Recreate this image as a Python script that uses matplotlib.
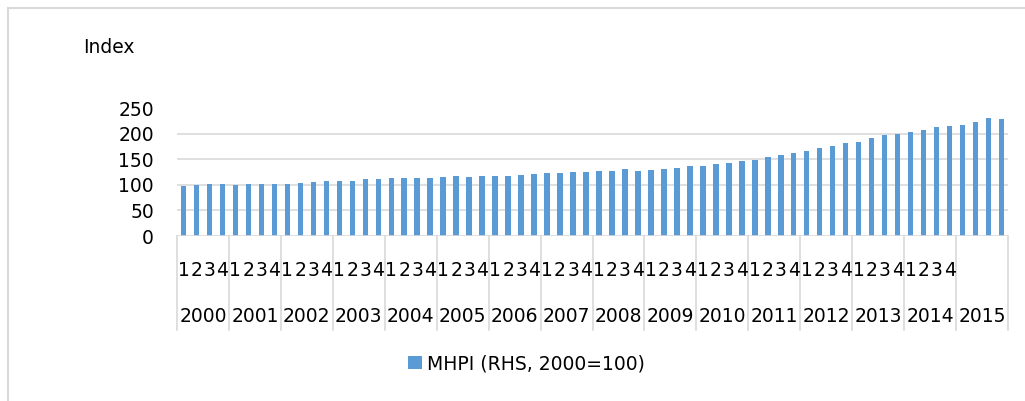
import numpy as np
import matplotlib.pyplot as plt
from matplotlib.lines import Line2D
from matplotlib.patches import Patch
import matplotlib.transforms as mtransforms

#########
# DATA  #
#########

years = [str(y) for y in range(2000, 2016)]
quarters = ["1", "2", "3", "4"]

# MHPI quarterly values, 2000Q1 .. 2015Q4
mhpi = [
    97.7, 100.0, 101.6, 101.6,
    100.0, 101.6, 102.0, 102.0,
    102.0, 104.0, 106.0, 107.0,
    107.0, 107.0, 111.0, 111.0,
    113.0, 113.0, 113.0, 114.0,
    115.0, 117.0, 116.0, 117.0,
    117.0, 118.0, 118.6, 121.8,
    122.5, 122.5, 124.4, 125.0,
    128.0, 128.0, 131.0, 128.0,
    129.0, 131.0, 133.0, 136.0,
    137.0, 140.0, 143.0, 146.6,
    148.5, 154.0, 157.7, 161.6,
    166.0, 172.0, 176.5, 181.8,
    184.4, 191.5, 197.4, 199.3,
    202.6, 207.8, 213.0, 215.0,
    218.0, 223.5, 230.0, 228.0,
]

legend_label = "MHPI (RHS, 2000=100)"
y_title = "Index"
y_ticks = [0, 50, 100, 150, 200, 250]

##########
# STYLE  #
##########

W, H = 1025, 401
BAR_COLOR = "#5b9bd5"
GRID_COLOR = "#d9d9d9"
FONT_SIZE = 13.5

plt.rcParams["font.family"] = ["DejaVu Sans"]

fig = plt.figure(figsize=(W / 100, H / 100), dpi=100)

# axes placed in pixel terms of the reference
ax_left, ax_right = 177, 1008
ax_bottom, ax_top = 236, 108.2
ax = fig.add_axes([ax_left / W, 1 - ax_bottom / H,
                   (ax_right - ax_left) / W, (ax_bottom - ax_top) / H])
ax_h = ax_bottom - ax_top

x = np.arange(len(mhpi))
ax.bar(x, mhpi, width=0.42, color=BAR_COLOR, zorder=3)

ax.set_xlim(-0.5, len(mhpi) - 0.5)
ax.set_ylim(0, 250)
ax.set_yticks(y_ticks)
ax.tick_params(axis="y", length=0, pad=16.5, labelsize=FONT_SIZE)
ax.set_xticks([])

for s in ax.spines.values():
    s.set_visible(False)

# gridlines (none drawn at the top value)
for v in y_ticks[1:-1]:
    ax.axhline(v, color=GRID_COLOR, lw=1.2, zorder=1)
ax.axhline(0, color=GRID_COLOR, lw=1.2, zorder=4)

# multi-level category axis
trans = mtransforms.blended_transform_factory(ax.transData, ax.transAxes)
line_bottom = (ax_bottom - 330) / ax_h
for k in range(len(years) + 1):
    xb = -0.5 + 4 * k
    ax.plot([xb, xb], [0, line_bottom], color=GRID_COLOR, lw=1.2,
            transform=trans, clip_on=False)

q_base = (ax_bottom - 276) / ax_h
yr_base = (ax_bottom - 322) / ax_h
for i in range(len(mhpi)):
    if i // 4 == len(years) - 1:
        continue  # last year has no quarter labels
    ax.text(i, q_base, quarters[i % 4], transform=trans, ha="center",
            va="baseline", fontsize=FONT_SIZE)
for k, yr in enumerate(years):
    ax.text(4 * k + 1.5, yr_base, yr, transform=trans, ha="center",
            va="baseline", fontsize=FONT_SIZE)

# axis title
fig.text(83 / W, 1 - 53 / H, y_title, ha="left", va="baseline",
         fontsize=FONT_SIZE)

# legend
fs_px = FONT_SIZE * 100 / 72
fig.legend(handles=[Patch(facecolor=BAR_COLOR, label=legend_label)],
           loc="center left", bbox_to_anchor=(408 / W, 1 - 364 / H),
           frameon=False, fontsize=FONT_SIZE, borderpad=0, borderaxespad=0,
           handlelength=14 / fs_px, handleheight=13 / fs_px,
           handletextpad=5 / fs_px)

# outer chart border (left and top edges visible)
fig.add_artist(Line2D([8 / W, 8 / W], [0, 1 - 8 / H], color=GRID_COLOR,
                      lw=1.5, transform=fig.transFigure))
fig.add_artist(Line2D([8 / W, 1], [1 - 8 / H, 1 - 8 / H], color=GRID_COLOR,
                      lw=1.5, transform=fig.transFigure))

fig.savefig("out.png", dpi=100)
